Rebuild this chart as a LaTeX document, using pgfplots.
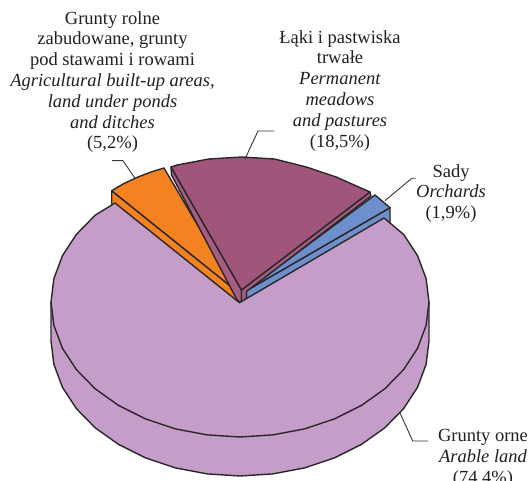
\documentclass[border=0pt]{standalone}
\usepackage{pgfplots}
\pgfplotsset{compat=1.18}
\usepackage{fontspec}
\setmainfont{Liberation Serif}
\definecolor{arable}{HTML}{C59DC9}
\definecolor{meadow}{HTML}{A0557A}
\definecolor{ponds}{HTML}{F58220}
\definecolor{orchard}{HTML}{6D8FCB}
\definecolor{edge}{HTML}{2B2729}
\definecolor{leader}{HTML}{3A3637}
\definecolor{txt}{HTML}{231F20}
\tikzset{
    lab/.style={font=\fontsize{18.5}{20.8}\selectfont, text=txt, align=center, inner sep=0pt},
    lead/.style={draw=leader, line width=0.9pt},
}
\begin{document}
\begin{tikzpicture}[x=1pt,y=1pt]
\path[use as bounding box] (0,0) rectangle (531,481);
\clip (0,0) rectangle (531,481);
\begin{axis}[
    at={(0,0)}, anchor=south west,
    width=531pt, height=481pt, scale only axis,
    xmin=0, xmax=531, ymin=0, ymax=481,
    y dir=reverse,
    axis lines=none,
    clip=false,
    every axis plot/.append style={draw=edge, line width=1.4pt, line join=round, mark=none},
]
% orange slice, side then top
\addplot[fill=ponds] coordinates {(111.7,190.7)(236,290.5)(236,310)(111.7,230)} -- cycle;
\addplot[fill=ponds] coordinates {(236,290.5)(111.7,190.7)(124,183.5)(138,177)(151,172)(164,168)} -- cycle;
% blue slice, side then top
\addplot[fill=orchard] coordinates {(390,207.7)(390,226)(246.5,302)(246.5,290.6)} -- cycle;
\addplot[fill=orchard] coordinates {(246.5,290.6)(375,195)(390,207.7)} -- cycle;
% dark slice, side faces then top
\addplot[fill=meadow!95!white] coordinates {(171,167)(241.5,290)(241.5,304)(236.5,299)(171.5,175)} -- cycle;
\addplot[fill=meadow!95!white] coordinates {(370,192)(241.5,290)(241.5,304)(246.5,299)(246.5,291.5)(371,196)} -- cycle;
\addplot[fill=meadow] coordinates {(241.5,290)(171,167)(177.1,165)(208.9,159)(241.7,157)(274.5,159)(306.3,167)(336.2,177)(363.2,189)(370,192)} -- cycle;
% large slice, side then top
\addplot[fill=arable] coordinates {(429,302)(429,341)(426.1,364.4)(417.6,387.2)(403.7,408.5)(384.8,427.8)(361.5,444.4)(334.5,457.9)(304.6,467.9)(272.8,473.9)(240,476)(207.2,473.9)(175.4,467.9)(145.5,457.9)(118.5,444.4)(95.2,427.8)(76.3,408.5)(62.4,387.2)(53.9,364.4)(51,341)(51,302)} -- cycle;
\addplot[fill=arable] coordinates {(239.5,302.7)(384,218)(403.7,234.5)(417.6,255.8)(426.1,278.6)(429,302)(426.1,325.4)(417.6,348.2)(403.7,369.5)(384.8,388.8)(361.5,405.4)(334.5,418.9)(304.6,428.9)(272.8,434.9)(240,437)(207.2,434.9)(175.4,428.9)(145.5,418.9)(118.5,405.4)(95.2,388.8)(76.3,369.5)(62.4,348.2)(53.9,325.4)(51,302)(53.9,278.6)(62.4,255.8)(76.3,234.5)(95.2,215.2)(115,203)} -- cycle;
% leader lines
\addplot[lead] coordinates {(135,178.3)(123,160.7)(112,160.7)};
\addplot[lead] coordinates {(245,159)(258,131)(274,131)};
\addplot[lead] coordinates {(385,200.7)(411.7,178.3)(415.7,178.3)};
\addplot[lead] coordinates {(400,413)(412.7,441)(428,441)};
% labels
\node[lab, anchor=north] at (axis cs:112.5,11) {Grunty rolne\\zabudowane, grunty\\pod stawami i rowami\\\textit{Agricultural built-up areas,}\\\textit{land under ponds}\\\textit{and ditches}\\(5,2\%)};
\node[lab, anchor=north] at (axis cs:340,30) {Łąki i pastwiska\\trwałe\\\textit{Permanent}\\\textit{meadows}\\\textit{and pastures}\\(18,5\%)};
\node[lab, anchor=north] at (axis cs:451,164) {Sady\\\textit{Orchards}\\(1,9\%)};
\node[lab, anchor=north] at (axis cs:483,429) {Grunty orne\\\textit{Arable land}\\(74,4\%)};
\end{axis}
\end{tikzpicture}
\end{document}
